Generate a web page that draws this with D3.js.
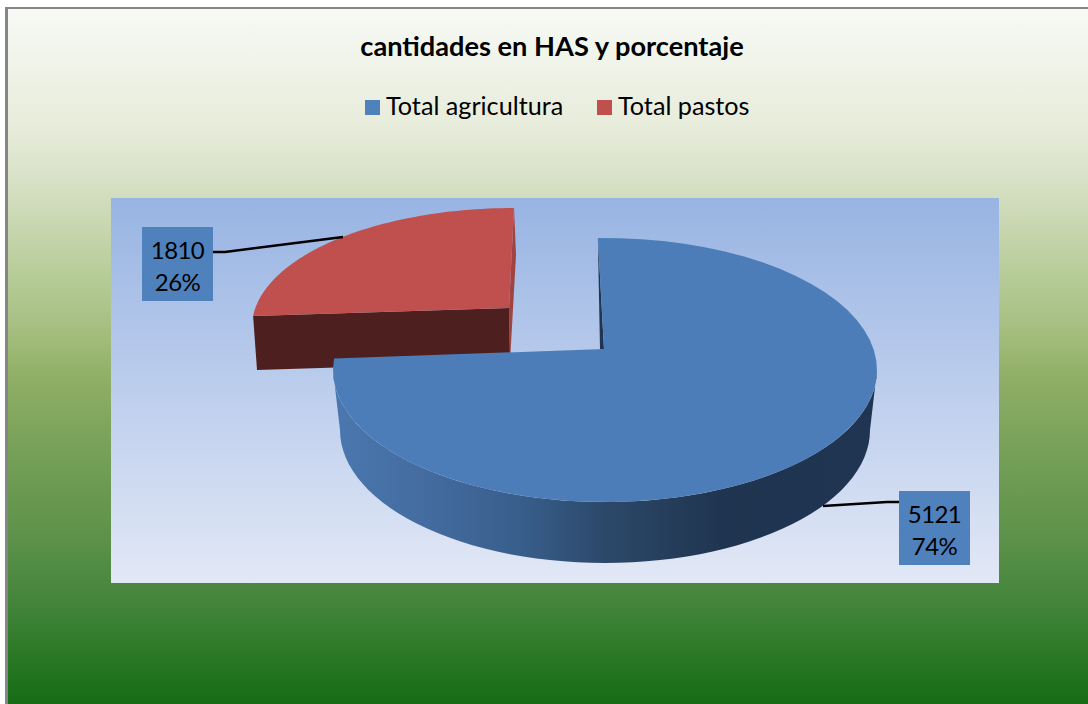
<!DOCTYPE html>
<html><head><meta charset="utf-8">
<script src="https://cdnjs.cloudflare.com/ajax/libs/d3/7.8.5/d3.min.js"></script>
<style>html,body{margin:0;padding:0;background:#fff;overflow:hidden}svg{display:block}text{font-family:Lato,"Open Sans",sans-serif;fill:#000}</style>
</head><body><svg id="c" width="1088" height="704"></svg>
<script>
const categories=["Total agricultura","Total pastos"];
const values=[5121,1810];
const percents=["74%","26%"];
const colors=["#4f81bd","#c0504d"];
const title="cantidades en HAS y porcentaje";

const svg=d3.select("#c");
const defs=svg.append("defs");
function grad(id,stops,x1,y1,x2,y2){
  const g=defs.append("linearGradient").attr("id",id).attr("gradientUnits","userSpaceOnUse")
    .attr("x1",x1).attr("y1",y1).attr("x2",x2).attr("y2",y2);
  stops.forEach(s=>g.append("stop").attr("offset",s[0]).attr("stop-color",s[1]));
}
grad("bg",[[0,"#f7faf5"],[.182,"#e6ebd9"],[.279,"#d0dcbc"],[.391,"#b5cb96"],[.448,"#a9c185"],[.491,"#9db874"],[.534,"#8fae66"],[.621,"#7aa25a"],[.764,"#5c9149"],[.859,"#42843a"],[.955,"#22741f"],[1,"#186c16"]],0,8,0,704);
grad("plot",[[0,"#98b4e3"],[1,"#e2e8f6"]],0,198,0,583);
grad("side",[[0,"#4a77af"],[.2,"#42699c"],[.35,"#375d89"],[.5,"#2c4869"],[.72,"#1f344f"],[1,"#1f3552"]],338,0,875,0);

svg.append("rect").attr("width",1088).attr("height",704).attr("fill","#fff");
svg.append("rect").attr("x",8).attr("y",9).attr("width",1080).attr("height",695).attr("fill","url(#bg)");
svg.append("rect").attr("x",5).attr("y",7).attr("width",3).attr("height",697).attr("fill","#868686");
svg.append("rect").attr("x",5).attr("y",7).attr("width",1083).attr("height",2).attr("fill","#868686");
svg.append("rect").attr("x",111).attr("y",198).attr("width",888).attr("height",385).attr("fill","url(#plot)");

svg.append("text").attr("x",552).attr("y",56).attr("text-anchor","middle").attr("font-size",27.2).attr("font-weight",700).text(title);

const legendX=[365,597];
categories.forEach((c,i)=>{
  svg.append("rect").attr("x",legendX[i]).attr("y",100).attr("width",15).attr("height",15).attr("fill",colors[i]);
  svg.append("text").attr("x",legendX[i]+21).attr("y",115).attr("font-size",25.2).text(c);
});

const arcs=d3.pie().sort(null)(values);
// Ellipse projections of the tilted pie
const ellipse=(cx,cy,rx,ry)=>({x:d3.scaleLinear().domain([-1,1]).range([cx-rx,cx+rx]),y:d3.scaleLinear().domain([-1,1]).range([cy-ry,cy+ry])});
const topB=ellipse(605,370,272,132), botB=ellipse(605,430,265,133);
const topR=ellipse(514,327,262,119);
const rad=Math.PI/180;
const angB=d3.scaleLinear().domain([arcs[0].startAngle,arcs[0].endAngle]).range([-1.5*rad,275*rad]);
const angR=d3.scaleLinear().domain([arcs[1].startAngle,arcs[1].endAngle]).range([-84.7*rad,0]);
const pt=(e,t)=>[e.x(Math.sin(t)),e.y(-Math.cos(t))];
const line=d3.line();
const sweep=(e,ang,a0,a1)=>d3.range(0,61).map(i=>pt(e,ang(a0+(a1-a0)*i/60)));

// red slice
const r=arcs[1];
const apexR=[509,308], apexRb=[510,362];
const rTop=sweep(topR,angR,r.startAngle,r.endAngle);
svg.append("path").attr("d",line([rTop[60],[516,255],apexRb,apexR])+"Z").attr("fill","#a04442");
svg.append("path").attr("d",line([rTop[0],[257,370],apexRb,apexR])+"Z").attr("fill","#4d1f1e");
svg.append("path").attr("d",line([...rTop,apexR])+"Z").attr("fill","#bf504d");

// blue slice
const b=arcs[0];
const apexB=[604,349];
const bTop=sweep(topB,angB,b.startAngle,b.endAngle);
const sideUp=d3.range(0,61).map(i=>pt(topB,(90+i*3)*rad));
const sideLow=d3.range(0,61).map(i=>pt(botB,(90+i*3)*rad));
svg.append("path").attr("d",line([...sideUp,...sideLow.reverse()])+"Z").attr("fill","url(#side)");
svg.append("path").attr("d",line([bTop[0],[600,349],apexB])+"Z").attr("fill","#1f3552");
svg.append("path").attr("d",line([...bTop,apexB])+"Z").attr("fill","#4c7db9");

// labels
const labels=[{i:0,x:899,y:491,lead:[[899,502],[887,502],[823,506]]},{i:1,x:142,y:227,lead:[[213,252],[225,252],[343,237]]}];
labels.forEach(l=>{
  svg.append("path").attr("d",line(l.lead)).attr("fill","none").attr("stroke","#000").attr("stroke-width",2.5);
  svg.append("rect").attr("x",l.x).attr("y",l.y).attr("width",71).attr("height",74).attr("fill",colors[0]);
  svg.append("text").attr("x",l.x+35.5).attr("y",l.y+32).attr("text-anchor","middle").attr("font-size",24).attr("letter-spacing",-0.6).text(values[l.i]);
  svg.append("text").attr("x",l.x+35.5).attr("y",l.y+64).attr("text-anchor","middle").attr("font-size",24).attr("letter-spacing",-0.6).text(percents[l.i]);
});
</script></body></html>
